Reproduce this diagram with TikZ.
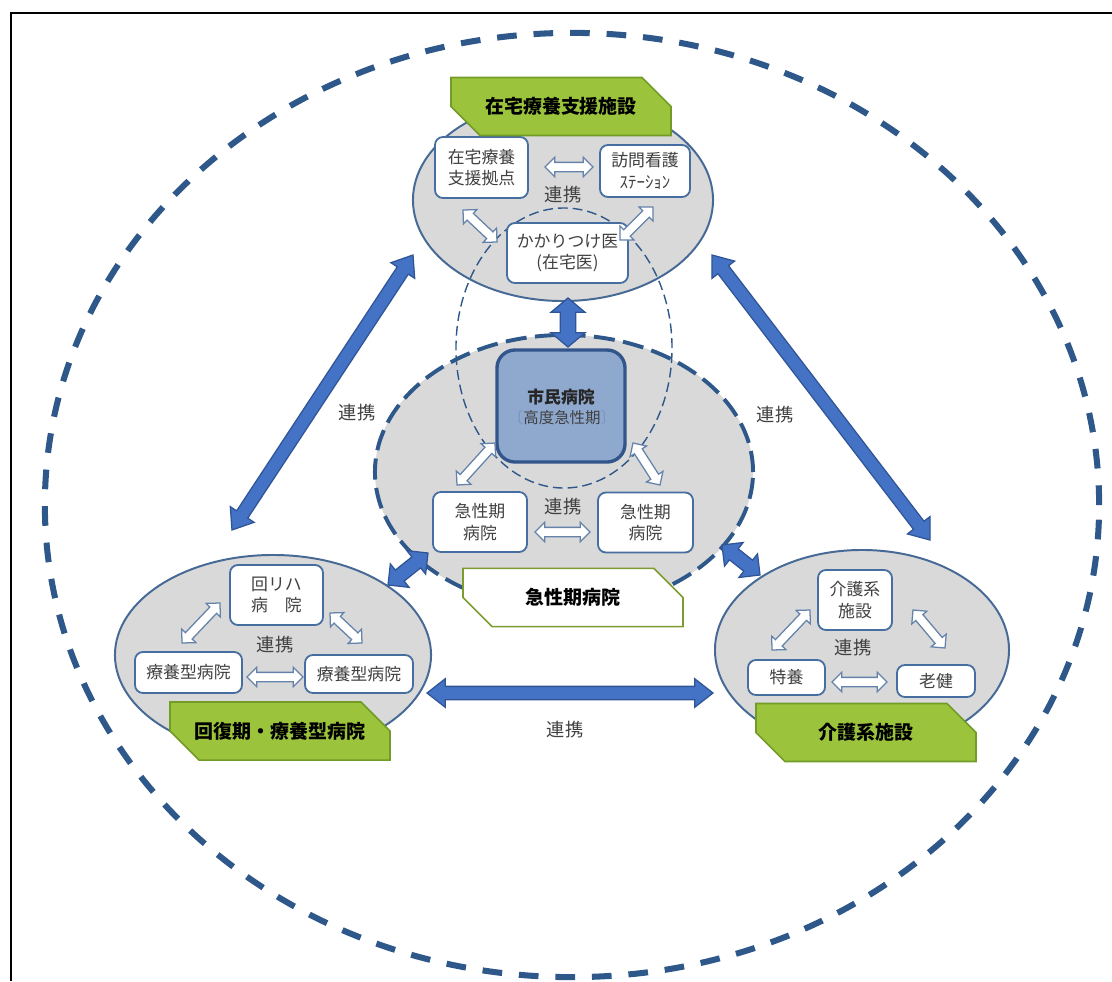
\documentclass[tikz,border=0pt]{standalone}
\usepackage{fontspec}
\setmainfont{Noto Sans CJK JP}
\usepackage{tikz}
\usetikzlibrary{shapes.geometric,shapes.arrows,shapes.misc,calc}

\definecolor{dashblue}{RGB}{47,88,138}
\definecolor{rimblue}{RGB}{70,105,150}
\definecolor{boxrim}{RGB}{70,110,160}
\definecolor{areagray}{RGB}{217,217,217}
\definecolor{leafgreen}{RGB}{155,195,60}
\definecolor{leafdark}{RGB}{115,155,40}
\definecolor{solidblue}{RGB}{68,114,196}
\definecolor{solidrim}{RGB}{47,85,151}
\definecolor{cityblue}{RGB}{142,168,206}
\definecolor{cityrim}{RGB}{50,85,140}
\definecolor{hollowrim}{RGB}{100,130,170}
\definecolor{bracketblue}{RGB}{120,150,190}
\definecolor{textgray}{RGB}{64,64,64}

\newcommand\blockarrow[3]{%
  \path let \p1=(#2), \p2=(#3), \n1={atan2(\y2-\y1,\x2-\x1)}, \n2={veclen(\x2-\x1,\y2-\y1)} in
    node[#1, rotate=\n1, minimum height=\n2] at ($(#2)!0.5!(#3)$) {};}

\begin{document}
\begin{tikzpicture}[x=0.025cm, y=-0.025cm,
  areaoval/.style={ellipse, draw=rimblue, fill=areagray, line width=1.4pt, inner sep=0pt},
  facility/.style={rectangle, rounded corners=0.2cm, draw=boxrim, fill=white, line width=1.3pt, align=center, inner sep=0pt, text=textgray, font=\fontsize{12}{15.5}\selectfont},
  grouptag/.style={chamfered rectangle, chamfered rectangle corners={north east,south west}, chamfered rectangle xsep=0.4cm, chamfered rectangle ysep=0.5cm, draw=leafdark, fill=leafgreen, line width=1.2pt, minimum width=5.5cm, minimum height=1.2cm, inner sep=0pt, font=\fontsize{13.5}{16}\selectfont\bfseries},
  link/.style={text=textgray, font=\fontsize{13}{15}\selectfont},
  hollowarrow/.style={double arrow, draw=hollowrim, fill=white, line width=0.9pt, inner xsep=0pt, inner ysep=0.1cm, double arrow head extend=0.13cm, double arrow tip angle=90},
  solidarrow/.style={double arrow, draw=solidrim, fill=solidblue, line width=0.9pt, inner xsep=0pt}]
\useasboundingbox (0,0) rectangle (1112,981);
\draw[line width=1.4pt] (11,981) -- (11,13) -- (1112,13);
\node[ellipse, draw=dashblue, line width=4.3pt, dash pattern=on 14pt off 12pt, minimum width=26.35cm, minimum height=23.6cm] (whole) at (572,505) {};

\node[areaoval, minimum width=7.5cm, minimum height=5.05cm] (homeoval) at (563,200) {};
\node[areaoval, draw=dashblue, line width=2.8pt, dash pattern=on 15pt off 6pt, minimum width=9.45cm, minimum height=6.85cm] (acuteoval) at (564,472) {};
\node[areaoval, minimum width=7.9cm, minimum height=5cm] (rehaboval) at (273,655) {};
\node[areaoval, minimum width=7.35cm, minimum height=5cm] (careoval) at (862,650) {};
\node[ellipse, draw=dashblue, line width=1pt, dash pattern=on 7pt off 3.5pt, minimum width=5.4cm, minimum height=7cm] (doctorring) at (564,348) {};

\node[facility, minimum width=2.325cm, minimum height=1.525cm] (base) at (481.5,167.5) {在宅療養\\支援拠点};
\node[facility, minimum width=2.25cm, minimum height=1.3cm] (nursing) at (645,171) {訪問看護\\ｽﾃｰｼｮﾝ};
\node[facility, minimum width=3.025cm, minimum height=1.5cm] (gp) at (567.5,253) {かかりつけ医\\(在宅医)};
\node[link] (linkhome) at (563,195) {連携};

\node[rounded corners=0.45cm, draw=cityrim, fill=cityblue, line width=2.4pt, minimum width=3.2cm, minimum height=2.8cm] (city) at (561,406) {};
\node[font=\fontsize{12}{14}\selectfont\bfseries, text=black!85] (citytitle) at (561,397) {市民病院};
\node[font=\fontsize{11}{13}\selectfont, text=textgray] (citysub) at (562,418) {\textcolor{bracketblue}{〔}高度急性期\textcolor{bracketblue}{〕}};
\node[facility, minimum width=2.35cm, minimum height=1.5cm] (acuteleft) at (480,522) {急性期\\病院};
\node[facility, minimum width=2.375cm, minimum height=1.5cm] (acuteright) at (645.5,522.5) {急性期\\病院};
\node[link] (linkacute) at (563,507) {連携};

\node[facility, minimum width=2.325cm, minimum height=1.5cm] (rehab) at (276.5,595) {回リハ\\病　院};
\node[facility, minimum width=2.675cm, minimum height=1.025cm] (longleft) at (188.5,672.5) {療養型病院};
\node[facility, minimum width=2.7cm, minimum height=0.95cm] (longright) at (359,674) {療養型病院};
\node[link] (linkrehab) at (275,645) {連携};

\node[facility, minimum width=1.85cm, minimum height=1.5cm] (carefac) at (855,600) {介護系\\施設};
\node[facility, minimum width=1.925cm, minimum height=0.875cm] (tokuyo) at (786.5,677.5) {特養};
\node[facility, minimum width=1.95cm, minimum height=0.8cm] (roken) at (936,681) {老健};
\node[link] (linkcare) at (853,648) {連携};

\coordinate (h1a) at (545,167); \coordinate (h1b) at (593,167);
\coordinate (h2a) at (463,210); \coordinate (h2b) at (497,242);
\coordinate (h3a) at (620,240); \coordinate (h3b) at (653,207);
\coordinate (h4a) at (535,532); \coordinate (h4b) at (590,532);
\coordinate (h5a) at (457,485); \coordinate (h5b) at (495,443);
\coordinate (h6a) at (633,443); \coordinate (h6b) at (660,485);
\coordinate (h7a) at (247,677); \coordinate (h7b) at (303,677);
\coordinate (h8a) at (182,643); \coordinate (h8b) at (220,603);
\coordinate (h9a) at (330,613); \coordinate (h9b) at (362,643);
\coordinate (h10a) at (832,682); \coordinate (h10b) at (887,682);
\coordinate (h11a) at (772,650); \coordinate (h11b) at (810,610);
\coordinate (h12a) at (913,610); \coordinate (h12b) at (945,648);
\foreach \i in {1,...,12} {\blockarrow{hollowarrow}{h\i a}{h\i b}}

\coordinate (s1a) at (568,298); \coordinate (s1b) at (568,347);
\coordinate (s2a) at (232,530); \coordinate (s2b) at (413,255);
\coordinate (s3a) at (712,255); \coordinate (s3b) at (930,540);
\coordinate (s4a) at (427,693); \coordinate (s4b) at (713,693);
\coordinate (s5a) at (388,585); \coordinate (s5b) at (428,553);
\coordinate (s6a) at (722,545); \coordinate (s6b) at (760,575);
\blockarrow{solidarrow, inner ysep=0.18cm, double arrow head extend=0.23cm, double arrow tip angle=100}{s1a}{s1b}
\blockarrow{solidarrow, inner ysep=0.15cm, double arrow head extend=0.19cm, double arrow tip angle=75}{s2a}{s2b}
\blockarrow{solidarrow, inner ysep=0.15cm, double arrow head extend=0.19cm, double arrow tip angle=75}{s3a}{s3b}
\blockarrow{solidarrow, inner ysep=0.15cm, double arrow head extend=0.19cm, double arrow tip angle=76}{s4a}{s4b}
\blockarrow{solidarrow, inner ysep=0.16cm, double arrow head extend=0.2cm, double arrow tip angle=90}{s5a}{s5b}
\blockarrow{solidarrow, inner ysep=0.16cm, double arrow head extend=0.2cm, double arrow tip angle=90}{s6a}{s6b}
\node[link] (linkleft) at (357,413) {連携};
\node[link] (linkright) at (775,415) {連携};
\node[link] (linkbottom) at (565,730) {連携};

\node[grouptag] (hometag) at (561,106.5) {在宅療養支援施設};
\node[grouptag, fill=white, draw=leafgreen!80!black] (acutetag) at (573,597.5) {急性期病院};
\node[grouptag] (rehabtag) at (280,731) {回復期・療養型病院};
\node[grouptag] (caretag) at (866,732.5) {介護系施設};
\end{tikzpicture}
\end{document}
